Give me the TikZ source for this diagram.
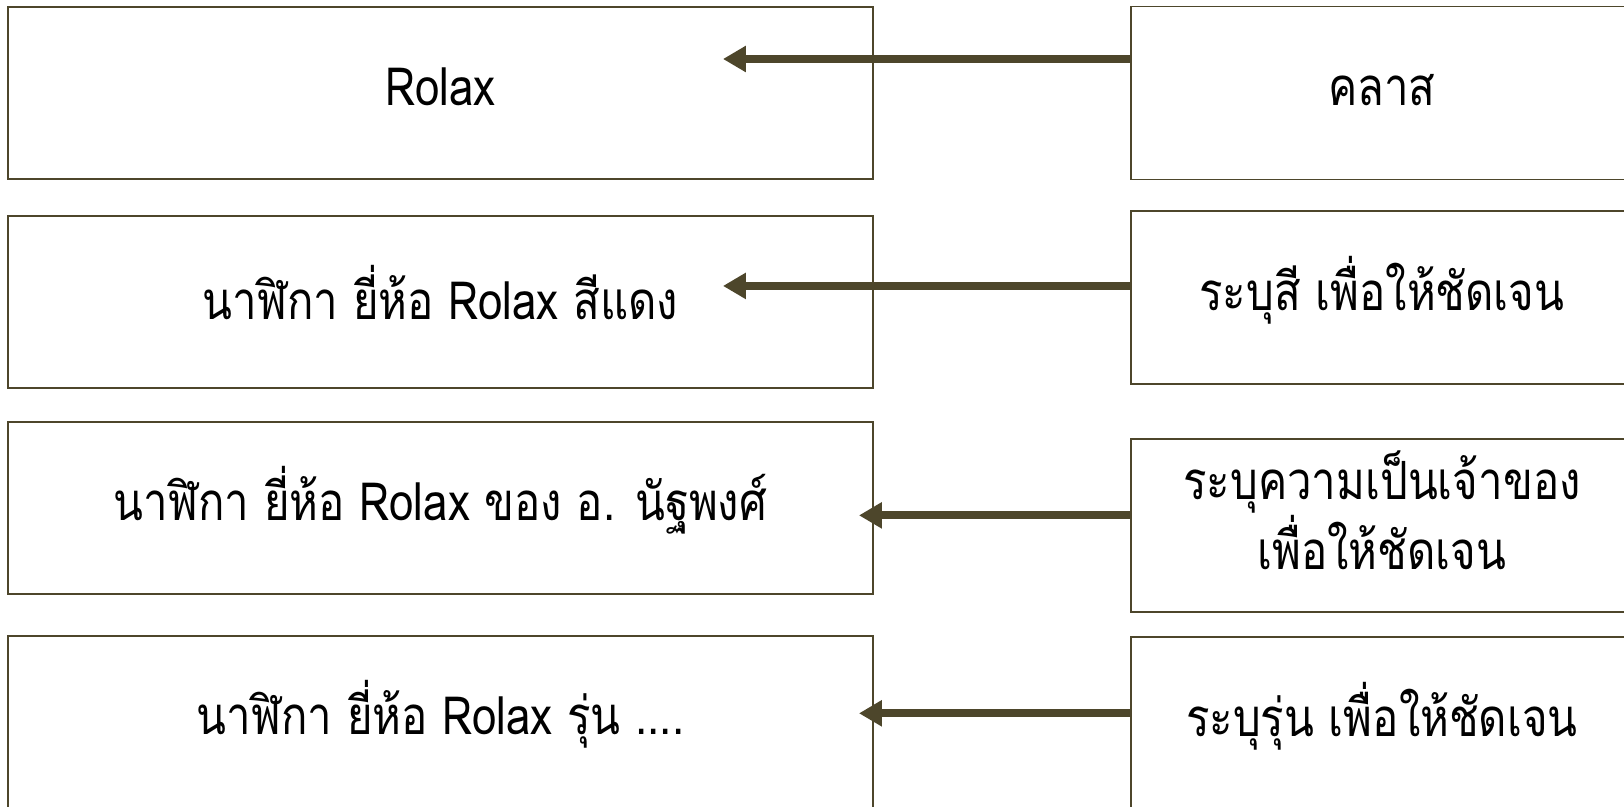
\documentclass[tikz,border=0pt]{standalone}
\usepackage{fontspec}
\setmainfont[Script=Thai, FakeStretch=0.83]{Loma}
\usetikzlibrary{positioning}
\usetikzlibrary{arrows.meta}
\usepackage{xcolor}
\definecolor{bark}{RGB}{77,70,43}

\begin{document}
\begin{tikzpicture}[main/.style = {draw=bark, line width=1.1pt, rectangle, minimum width=17.3cm, minimum height=3.44cm, inner sep=0pt, align=center, text height=1cm, text depth=0.5cm, font=\fontsize{30}{37}\selectfont},
		note/.style = {main, minimum width=10.04cm, minimum height=3.46cm},
		link/.style = {draw=bark, line width=4.5pt, -{Triangle[length=0.46cm, width=0.5cm]}}]
		\useasboundingbox (0,0) rectangle (32.48,-16.14);
		\node[main] (0) at (8.81,-1.86) {Rolax};
		\node[main, text depth=0.3cm] (1) [below=0.7cm of 0] {นาฬิกา ยี่ห้อ Rolax สีแดง};
		\node[main] (2) [below=0.64cm of 1] {นาฬิกา ยี่ห้อ Rolax ของ อ. นัฐพงศ์};
		\node[main] (3) [below=0.8cm of 2] {นาฬิกา ยี่ห้อ Rolax รุ่น ....};
		\node[note] (4) [right=5.12cm of 0] {คลาส};
		\node[note] (5) [below=0.6cm of 4] {ระบุสี เพื่อให้ชัดเจน};
		\node[note, text height=2.24cm] (6) [below=1.06cm of 5] {ระบุความเป็นเจ้าของ\\เพื่อให้ชัดเจน};
		\node[note] (7) [below=0.46cm of 6] {ระบุรุ่น เพื่อให้ชัดเจน};
		\draw[link] ([yshift=0.68cm]4.west) coordinate (t0) -- ([xshift=-3.02cm]0.east |- t0);
		\draw[link] ([yshift=0.24cm]5.west) coordinate (t1) -- ([xshift=-3.02cm]1.east |- t1);
		\draw[link] ([yshift=0.21cm]6.west) coordinate (t2) -- ([xshift=-0.3cm]2.east |- t2);
		\draw[link] ([yshift=0.21cm]7.west) coordinate (t3) -- ([xshift=-0.3cm]3.east |- t3);
	\end{tikzpicture}
\end{document}
